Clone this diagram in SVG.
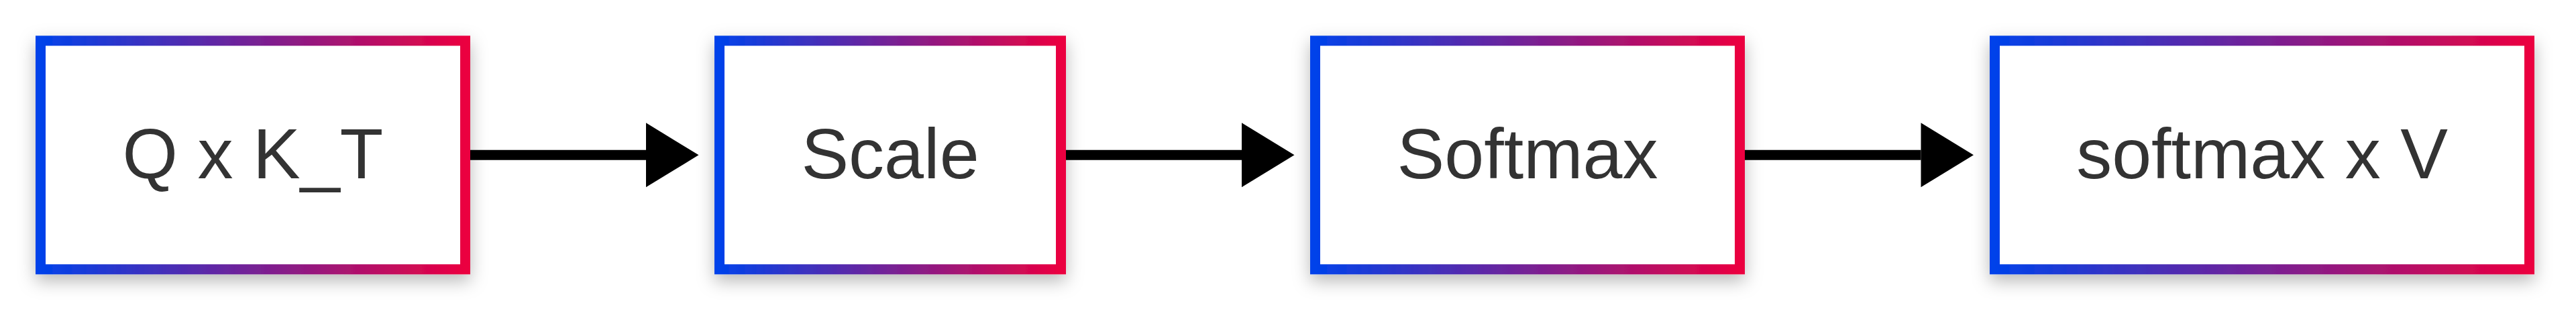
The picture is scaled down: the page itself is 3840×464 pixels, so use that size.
<svg xmlns="http://www.w3.org/2000/svg" width="3840" height="464" viewBox="0 0 3840 464">
  <defs>
    <linearGradient id="grad" x1="0" y1="0" x2="1" y2="0">
      <stop offset="0" stop-color="#0042EA"/>
      <stop offset="1" stop-color="#EB0040"/>
    </linearGradient>
    <filter id="shadow" x="-20%" y="-40%" width="140%" height="180%">
      <feDropShadow dx="0" dy="10" stdDeviation="13" flood-color="#000" flood-opacity="0.28"/>
    </filter>
    <marker id="head" markerUnits="userSpaceOnUse" markerWidth="80" markerHeight="98" refX="0" refY="48" orient="auto" overflow="visible">
      <path d="M0,0 L78.5,48 L0,96 Z" fill="#000"/>
    </marker>
  </defs>
  <style>
    .box { fill: #ffffff; stroke: url(#grad); stroke-width: 15; filter: url(#shadow); }
    .label { font-family: "Liberation Sans", Arial, sans-serif; font-size: 106px; fill: #333333; text-anchor: middle; }
    .edge { stroke: #000; stroke-width: 15; fill: none; marker-end: url(#head); }
  </style>
  <rect width="3840" height="464" fill="#ffffff"/>

  <g id="connectors">
    <path class="edge" d="M701,231.3 L963,231.3"/>
    <path class="edge" d="M1589,231.3 L1851,231.3"/>
    <path class="edge" d="M2601,231.3 L2863.5,231.3"/>
  </g>

  <g id="node-qk">
    <rect class="box" x="60.5" y="60.8" width="633" height="341"/>
    <text class="label" x="377" y="266">Q x K_T</text>
  </g>
  <g id="node-scale">
    <rect class="box" x="1072.5" y="60.8" width="509" height="341"/>
    <text class="label" x="1327" y="266">Scale</text>
  </g>
  <g id="node-softmax">
    <rect class="box" x="1960.5" y="60.8" width="633" height="341"/>
    <text class="label" x="2277" y="266">Softmax</text>
  </g>
  <g id="node-softmax-v">
    <rect class="box" x="2973.5" y="60.8" width="797" height="341"/>
    <text class="label" x="3372" y="266">softmax x V</text>
  </g>
</svg>
